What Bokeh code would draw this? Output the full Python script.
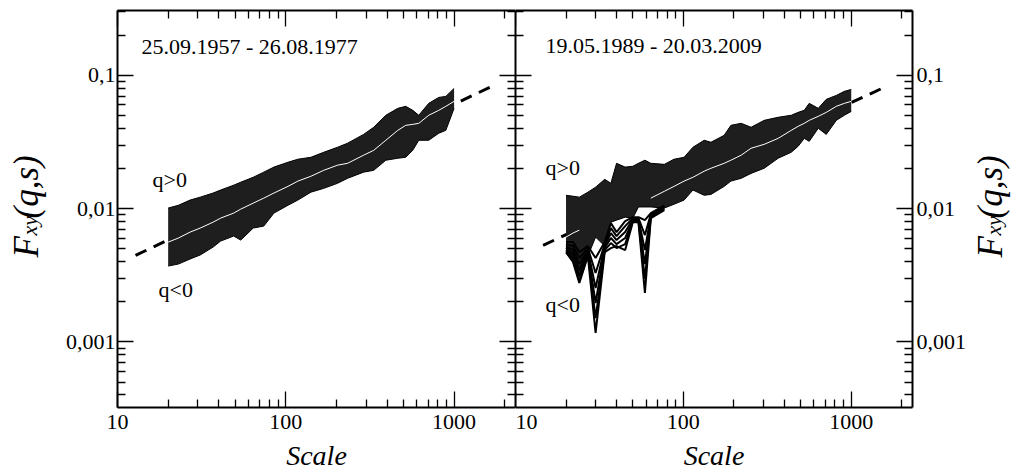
import numpy as np
from bokeh.plotting import figure
from bokeh.models import LogAxis, FixedTicker, Range1d, Label, CustomJSTickFormatter
from bokeh.layouts import row, column
from bokeh.embed import file_html
from bokeh.resources import INLINE

# ---------------- data ----------------
x_major = [10, 100, 1000]
x_minor = [20, 30, 40, 50, 60, 70, 80, 90, 200, 300, 400, 500, 600, 700, 800, 900, 2000]
y_major = [0.001, 0.01, 0.1]
y_minor = [0.0004, 0.0005, 0.0006, 0.0007, 0.0008, 0.0009,
           0.002, 0.003, 0.004, 0.005, 0.006, 0.007, 0.008, 0.009,
           0.02, 0.03, 0.04, 0.05, 0.06, 0.07, 0.08, 0.09, 0.2, 0.3]

left_title = "25.09.1957 - 26.08.1977"
right_title = "19.05.1989 - 20.03.2009"

left_scale = [20, 23, 27, 31, 37, 41, 49, 54, 64, 74, 85, 103, 118, 141, 168, 203,
              233, 290, 333, 393, 463, 516, 568, 617, 707, 811, 893, 1000]
left_top = [0.0101, 0.0106, 0.0116, 0.0122, 0.0131, 0.0138, 0.0150, 0.0158, 0.0172, 0.0188,
            0.0205, 0.0223, 0.0235, 0.0243, 0.0265, 0.0289, 0.0310, 0.0361, 0.0408, 0.0502,
            0.0566, 0.0586, 0.0547, 0.0502, 0.0617, 0.0684, 0.0696, 0.0799]
left_mid = [0.00561, 0.00602, 0.00667, 0.00715, 0.00792, 0.00849, 0.00926, 0.00992, 0.0110, 0.0120,
            0.0131, 0.0147, 0.0161, 0.0175, 0.0194, 0.0212, 0.0219, 0.0252, 0.0274, 0.0326,
            0.0387, 0.0422, 0.0429, 0.0437, 0.0502, 0.0547, 0.0586, 0.0639]
left_bot = [0.00371, 0.00384, 0.00419, 0.00449, 0.00515, 0.00571, 0.00623, 0.00581, 0.00715, 0.00740,
            0.00926, 0.0106, 0.0116, 0.0133, 0.0142, 0.0155, 0.0169, 0.0188, 0.0194, 0.0231,
            0.0239, 0.0243, 0.0274, 0.0326, 0.0326, 0.0368, 0.0387, 0.0566]
left_fit_scale = [12.8, 1720]
left_fit_F = [0.00446, 0.0841]

right_scale = [20, 22, 24, 27, 30, 34, 37, 40, 45, 50, 54, 59, 64, 77, 88, 101, 114, 133, 146, 175,
               192, 221, 253, 303, 367, 439, 483, 525, 562, 636, 710, 815, 910, 1000]
right_top = [0.0126, 0.0124, 0.0122, 0.0133, 0.0145, 0.0166, 0.0155, 0.0219, 0.0205, 0.0208,
             0.0219, 0.0231, 0.0219, 0.0215, 0.0235, 0.0243, 0.0289, 0.0326, 0.0315, 0.0355,
             0.0422, 0.0437, 0.0408, 0.0460, 0.0485, 0.0502, 0.0528, 0.0547, 0.0617, 0.0566,
             0.0661, 0.0708, 0.0759, 0.0785]
right_mid = [0.00612, 0.00656, 0.00690, 0.00727, 0.00766, 0.00820, 0.00879, 0.00910, 0.00975, 0.0103,
             0.0108, 0.0112, 0.0120, 0.0135, 0.0147, 0.0161, 0.0172, 0.0191, 0.0201, 0.0219,
             0.0231, 0.0252, 0.0284, 0.0304, 0.0337, 0.0387, 0.0415, 0.0437, 0.0460, 0.0493,
             0.0528, 0.0586, 0.0617, 0.0639]
right_bot = [0.00464, 0.00398, 0.00277, 0.00441, 0.00612, 0.00524, 0.00792, 0.00820, 0.00864, 0.00849,
             0.0103, 0.0103, 0.0103, 0.0101, 0.0108, 0.0116, 0.0138, 0.0126, 0.0128, 0.0147,
             0.0161, 0.0169, 0.0184, 0.0201, 0.0239, 0.0265, 0.0294, 0.0337, 0.0320, 0.0401,
             0.0361, 0.0460, 0.0502, 0.0537]
right_fit_scale = [14.6, 1570]
right_fit_F = [0.00531, 0.0813]

# q<0 curves that leave the dense band at small scales (right panel)
right_neg_scale = [20, 22, 24, 27, 30, 34, 37, 40, 45, 50, 54, 59, 64, 77]
right_neg_1 = [0.00472, 0.00398, 0.00277, 0.00441, 0.00117, 0.00472, 0.00506, 0.00524, 0.00489, 0.00792, 0.00792, 0.00233, 0.00849, 0.00975]
right_neg_2 = [0.00489, 0.00426, 0.00312, 0.00456, 0.00151, 0.00489, 0.00552, 0.00506, 0.00542, 0.00806, 0.00806, 0.00297, 0.00864, 0.00992]
right_neg_3 = [0.00506, 0.00456, 0.00346, 0.00472, 0.00196, 0.00506, 0.00602, 0.00542, 0.00602, 0.00820, 0.00820, 0.00384, 0.00879, 0.0101]
right_neg_4 = [0.00524, 0.00489, 0.00384, 0.00489, 0.00254, 0.00524, 0.00656, 0.00581, 0.00667, 0.00835, 0.00835, 0.00489, 0.00894, 0.0103]
right_neg_5 = [0.00542, 0.00524, 0.00426, 0.00506, 0.00329, 0.00542, 0.00715, 0.00623, 0.00740, 0.00849, 0.00849, 0.00634, 0.00910, 0.0104]
right_neg_6 = [0.00561, 0.00561, 0.00472, 0.00524, 0.00426, 0.00561, 0.00779, 0.00667, 0.00806, 0.00864, 0.00864, 0.00820, 0.00926, 0.0106]

X_RANGE = (10, 2317)
Y_RANGE = (3.22e-4, 0.307)

SERIF = "Liberation Serif"
FMT = "return String(tick).replace('.', ',');"
BLANK = "return '';"

# layout sizes (px)
H = 466
TOP = 10
FRAME_H = 397
BOTTOM = 32
LAB_L = 57
BORDER_L = 60
BORDER_R = 55
FRAME_W1 = 398
FRAME_W2 = 397
W1 = BORDER_L + FRAME_W1
W2 = FRAME_W2 + BORDER_R
LAB_R = 1018 - LAB_L - W1 - W2
DROP = 9  # how far an alphabetic-anchored Label lands below its anchor


def style_axis(ax, major, minor, labels):
    ax.ticker = FixedTicker(ticks=major, minor_ticks=minor)
    ax.axis_line_width = 2
    ax.axis_line_color = "black"
    ax.major_tick_in = 16
    ax.major_tick_out = 0
    ax.minor_tick_in = 8
    ax.minor_tick_out = 0
    ax.major_tick_line_width = 1.3
    ax.minor_tick_line_width = 1.3
    ax.major_tick_line_color = "black"
    ax.minor_tick_line_color = "black"
    ax.major_label_text_font = SERIF
    ax.major_label_text_color = "black"
    if labels:
        ax.formatter = CustomJSTickFormatter(code=FMT)
        ax.major_label_text_font_size = "22px"
    else:
        ax.formatter = CustomJSTickFormatter(code=BLANK)
        ax.major_label_text_font_size = "0px"
        ax.major_label_standoff = 0


def make_panel(first):
    p = figure(x_axis_type="log", y_axis_type="log", title=None,
               x_range=Range1d(*X_RANGE), y_range=Range1d(*Y_RANGE),
               frame_width=FRAME_W1 if first else FRAME_W2, frame_height=FRAME_H,
               min_border_left=BORDER_L if first else 0,
               min_border_right=0 if first else BORDER_R,
               min_border_top=TOP, min_border_bottom=BOTTOM,
               y_axis_location="left" if first else "right",
               output_backend="svg", toolbar_location=None,
               background_fill_color="white", border_fill_color="white")
    p.outline_line_color = None
    p.grid.visible = False

    top_ax = LogAxis()
    side_ax = LogAxis()
    p.add_layout(top_ax, "above")
    p.add_layout(side_ax, "right" if first else "left")

    bx = p.below[0]
    style_axis(bx, x_major, x_minor, True)
    bx.major_label_standoff = 7
    style_axis(top_ax, x_major, x_minor, False)

    main_y = p.left[0] if first else p.right[0]
    style_axis(main_y, y_major, y_minor, True)
    main_y.major_label_standoff = 2 if first else 4
    style_axis(side_ax, y_major, y_minor, False)
    return p


def strip(width, height):
    f = figure(width=width, height=height, title=None,
               x_range=Range1d(0, width), y_range=Range1d(0, height),
               min_border=0, x_axis_location=None, y_axis_location=None,
               toolbar_location=None, output_backend="svg",
               background_fill_color="white", border_fill_color="white")
    f.outline_line_color = None
    f.grid.visible = False
    return f


def ylabel(f, x0, y0):
    common = dict(angle=np.pi / 2, text_font=SERIF, text_font_style="italic",
                  text_color="black", text_align="left", text_baseline="alphabetic")
    f.add_layout(Label(x=x0, y=y0, text="F", text_font_size="35px", **common))
    f.add_layout(Label(x=x0 + 3, y=y0 + 22, text="xy", text_font_size="22px", **common))
    f.add_layout(Label(x=x0, y=y0 + 39, text="(q,s)", text_font_size="35px", **common))


def text(p, x0, y0, s):
    p.add_layout(Label(x=x0, y=y0 + DROP, x_units="screen", y_units="screen", text=s,
                       text_font=SERIF, text_font_size="22px", text_color="black",
                       text_baseline="alphabetic"))


BAND = "#1e1e1e"

# ---- left panel ----
p1 = make_panel(True)
p1.line(left_fit_scale, left_fit_F, line_color="black", line_width=3, line_dash="12 8")
p1.varea(x=left_scale, y1=left_bot, y2=left_top, fill_color=BAND)
p1.line(left_scale, left_top, line_color="black", line_width=1)
p1.line(left_scale, left_bot, line_color="black", line_width=1)
p1.line(left_scale, left_mid, line_color="white", line_width=1)
text(p1, 24, 352, left_title)
text(p1, 35, 219, "q>0")
text(p1, 41, 109, "q<0")

# ---- right panel ----
p2 = make_panel(False)
p2.line(right_fit_scale, right_fit_F, line_color="black", line_width=3, line_dash="12 8")
p2.varea(x=right_scale, y1=right_bot, y2=right_top, fill_color=BAND)
p2.line(right_scale, right_top, line_color="black", line_width=1)
p2.line(right_scale, right_bot, line_color="black", line_width=1)
for ys in (right_neg_1, right_neg_2, right_neg_3, right_neg_4, right_neg_5, right_neg_6):
    p2.line(right_neg_scale, ys, line_color="black", line_width=2)
p2.line(right_scale[:3], right_mid[:3], line_color="white", line_width=1)
p2.line(right_scale[12:], right_mid[12:], line_color="white", line_width=1)
text(p2, 30, 353, right_title)
text(p2, 30, 231, "q>0")
text(p2, 30, 94, "q<0")

# ---- axis titles ----
lab_l = strip(LAB_L, H)
ylabel(lab_l, 35 - DROP, H - 257)
lab_r = strip(LAB_R, H)
ylabel(lab_r, 997 - (LAB_L + W1 + W2) - DROP, H - 257)

SH = H - TOP - FRAME_H - BOTTOM
bottom = strip(W1 + W2, SH)
for cx in (BORDER_L + FRAME_W1 / 2, W1 + FRAME_W2 / 2):
    bottom.add_layout(Label(x=cx, y=2 + DROP, text="Scale", text_font=SERIF, text_font_style="italic",
                            text_font_size="28px", text_color="black",
                            text_align="center", text_baseline="alphabetic"))

layout = row(lab_l, column(row(p1, p2), bottom), lab_r)
open("out.html", "w").write(file_html(layout, INLINE))
